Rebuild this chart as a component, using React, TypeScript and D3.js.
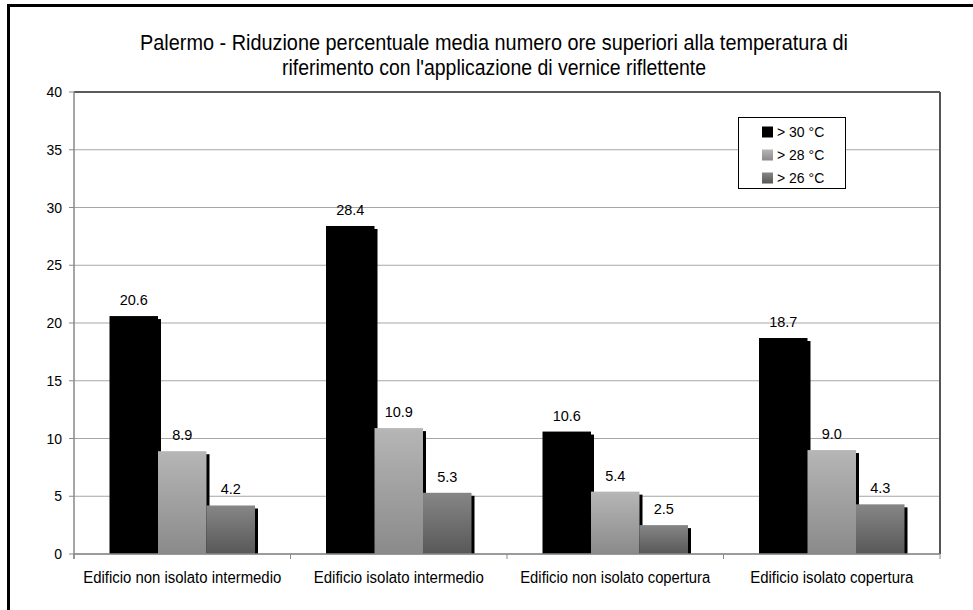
import React from "react";
import * as d3 from "d3";

const categories = [
  "Edificio non isolato intermedio",
  "Edificio isolato intermedio",
  "Edificio non isolato copertura",
  "Edificio isolato copertura",
];
const seriesNames = ["> 30 °C", "> 28 °C", "> 26 °C"];
const s30 = [20.6, 28.4, 10.6, 18.7];
const s28 = [8.9, 10.9, 5.4, 9.0];
const s26 = [4.2, 5.3, 2.5, 4.3];
const yTicks = [0, 5, 10, 15, 20, 25, 30, 35, 40];
const titleLines = [
  "Palermo - Riduzione percentuale media numero ore superiori alla temperatura di",
  "riferimento con l'applicazione di vernice riflettente",
];
// measured text widths (condensed font in the original)
const titleWidths = [708, 424];
const categoryWidths = [198, 170, 190, 163];

const W = 973;
const H = 610;
const FONT = "'Liberation Sans', Arial, sans-serif";

export default function App() {
  const left = 74, right = 940, top = 92, bottom = 554;
  const y = d3.scaleLinear().domain([0, 40]).range([bottom, top]);
  const x0 = d3.scaleBand<string>().domain(categories).range([left, right]).padding(0);
  const x1 = d3
    .scaleBand<string>()
    .domain(seriesNames)
    .range([0, x0.bandwidth()])
    .paddingInner(0)
    .paddingOuter(0.732);
  const series = [s30, s28, s26];
  const fills = ["#000000", "url(#gLight)", "url(#gDark)"];

  return (
    <svg
      width={W}
      height={H}
      style={{ position: "absolute", left: 0, top: 0, background: "#fff" }}
      fontFamily={FONT}
    >
      <defs>
        <linearGradient id="gLight" x1="0" y1="0" x2="0" y2="1">
          <stop offset="0" stopColor="#b6b6b6" />
          <stop offset="1" stopColor="#8a8a8a" />
        </linearGradient>
        <linearGradient id="gDark" x1="0" y1="0" x2="0" y2="1">
          <stop offset="0" stopColor="#868686" />
          <stop offset="1" stopColor="#585858" />
        </linearGradient>
        <clipPath id="plotClip">
          <rect x={left} y={top - 10} width={right - left + 10} height={bottom - top + 10} />
        </clipPath>
      </defs>
      <rect x={0} y={0} width={W} height={H} fill="#fff" />
      {/* outer frame */}
      <rect x={8.5} y={5.5} width={1100} height={800} fill="none" stroke="#000" strokeWidth={3} />

      {/* title */}
      {titleLines.map((t, i) => (
        <text
          key={i}
          x={494 - titleWidths[i] / 2}
          y={50 + i * 25}
          fontSize={22.5}
          fill="#000"
          textLength={titleWidths[i]}
          lengthAdjust="spacingAndGlyphs"
        >
          {t}
        </text>
      ))}

      {/* gridlines */}
      {yTicks.map((t) => (
        <line key={t} x1={left} x2={right} y1={y(t)} y2={y(t)} stroke="#a6a6a6" strokeWidth={1} />
      ))}
      {/* y ticks and labels */}
      {yTicks.map((t) => (
        <g key={"yt" + t}>
          <line x1={left - 5} x2={left} y1={y(t)} y2={y(t)} stroke="#888" />
          <text x={62} y={y(t) + 5} textAnchor="end" fontSize={14} fill="#000">
            {t}
          </text>
        </g>
      ))}

      {/* bars */}
      <g clipPath="url(#plotClip)">
        {categories.map((c, ci) =>
          series.map((s, si) => {
            const bx = (x0(c) as number) + (x1(seriesNames[si]) as number);
            const by = y(s[ci]);
            const bw = x1.bandwidth();
            return (
              <g key={c + si}>
                <rect x={bx + 3} y={by + 3} width={bw} height={bottom - by} fill="#000" />
                <rect x={bx} y={by} width={bw} height={bottom - by} fill={fills[si]} />
              </g>
            );
          })
        )}
      </g>

      {/* value labels */}
      {categories.map((c, ci) =>
        series.map((s, si) => {
          const bx = (x0(c) as number) + (x1(seriesNames[si]) as number);
          return (
            <text
              key={"v" + c + si}
              x={bx + x1.bandwidth() / 2}
              y={y(s[ci]) - 11}
              textAnchor="middle"
              fontSize={14.5}
              fill="#000"
            >
              {s[ci].toFixed(1)}
            </text>
          );
        })
      )}

      {/* plot border top/right */}
      <line x1={left} x2={right} y1={top} y2={top} stroke="#333" strokeWidth={1.5} />
      <line x1={right} x2={right} y1={top} y2={bottom} stroke="#555" strokeWidth={2} />
      {/* axes */}
      <line x1={left} x2={left} y1={top} y2={bottom + 5} stroke="#888" strokeWidth={1.5} />
      <line x1={left} x2={right} y1={bottom} y2={bottom} stroke="#888" strokeWidth={1.5} />
      {d3.range(categories.length + 1).map((i) => {
        const xx = left + i * x0.step();
        return <line key={"xt" + i} x1={xx} x2={xx} y1={bottom} y2={bottom + 5} stroke="#888" />;
      })}
      {categories.map((c, i) => (
        <text
          key={"cl" + c}
          x={(x0(c) as number) + x0.bandwidth() / 2 - categoryWidths[i] / 2}
          y={583}
          fontSize={16}
          fill="#000"
          textLength={categoryWidths[i]}
          lengthAdjust="spacingAndGlyphs"
        >
          {c}
        </text>
      ))}

      {/* legend */}
      <rect x={738.5} y={117.5} width={107} height={71} fill="#fff" stroke="#000" strokeWidth={1} />
      {seriesNames.map((n, i) => (
        <g key={n}>
          <rect x={762} y={126.5 + i * 23} width={11} height={11} fill={fills[i]} />
          <text x={777} y={137 + i * 23} fontSize={14} fill="#000">
            {n}
          </text>
        </g>
      ))}
    </svg>
  );
}
